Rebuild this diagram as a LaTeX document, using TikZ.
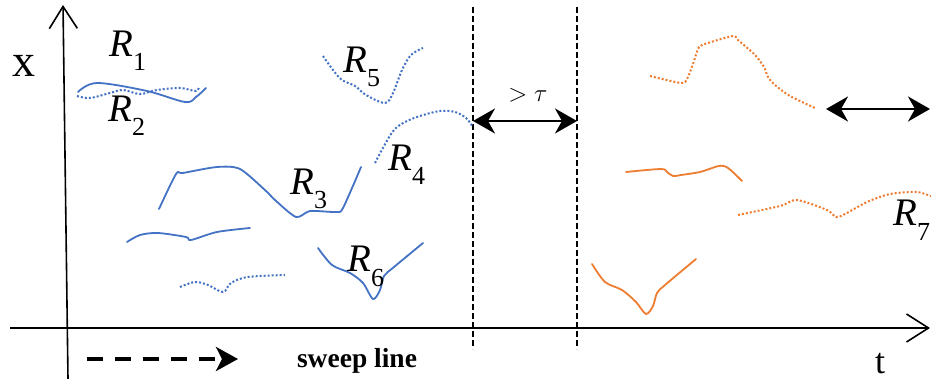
\documentclass[tikz,border=0pt]{standalone}
\usepackage{fontspec}
\setmainfont{Liberation Serif}
\usetikzlibrary{arrows.meta}
\definecolor{oblue}{HTML}{4472C4}
\definecolor{oorange}{HTML}{ED7D31}
\newcommand\trajlab[1]{{\fontsize{39}{40}\selectfont\textit{R}}\raisebox{-14pt}{\fontsize{26}{26}\selectfont #1}}
\begin{document}
\begin{tikzpicture}[x=1pt,y=-1pt,
  traj/.style={line width=1.8pt, line cap=round, line join=round},
  solidblue/.style={traj, draw=oblue},
  dotblue/.style={line width=2pt, draw=oblue, dash pattern=on 2pt off 2pt},
  solidorange/.style={traj, draw=oorange},
  dotorange/.style={line width=2pt, draw=oorange, dash pattern=on 2pt off 2pt},
  axis/.style={line width=1.6pt, black, -{Straight Barb[length=22pt,width=28pt,line width=1.6pt]}},
  sepline/.style={line width=1.4pt, black, dash pattern=on 6pt off 3pt},
  gaparrow/.style={line width=2.4pt, black, {Stealth[length=22pt,width=25pt,inset=7pt]}-{Stealth[length=22pt,width=25pt,inset=7pt]}},
  sweeparrow/.style={line width=3.6pt, black, dash pattern=on 16pt off 12pt, -{Stealth[length=22pt,width=24pt,inset=6pt]}},
  lab/.style={inner sep=0pt, anchor=base west},
  txt/.style={inner sep=0pt, anchor=base}
]
\clip (0,0) rectangle (931,379);
\fill[white] (0,0) rectangle (931,379);

% axes
\coordinate (xbot) at (68,379);
\coordinate (xtop) at (63,5);
\coordinate (tleft) at (10,328);
\coordinate (tright) at (930,328);
\draw[axis] (xbot) -- (xtop);
\draw[axis] (tleft) -- (tright);
\node[txt] (xlab) at (24,77) {\fontsize{46}{48}\selectfont x};
\node[txt] (tlab) at (880,373) {\fontsize{36}{38}\selectfont t};

% separating dashed lines
\coordinate (s1top) at (473,7);
\coordinate (s1bot) at (473,349);
\coordinate (s2top) at (577,7);
\coordinate (s2bot) at (577,349);
\draw[sepline] (s1top) -- (s1bot);
\draw[sepline] (s2top) -- (s2bot);

% gap arrows
\coordinate (g1l) at (473,121);
\coordinate (g1r) at (577,121);
\draw[gaparrow] (g1l) -- (g1r);
\node[txt] (taulab) at (528,102) {\fontsize{28}{30}\selectfont $>\tau$};
\coordinate (g2l) at (826,109);
\coordinate (g2r) at (930,109);
\draw[gaparrow] (g2l) -- (g2r);

% sweep line
\coordinate (swl) at (87,359);
\coordinate (swr) at (238,359);
\draw[sweeparrow] (swl) -- (swr);
\node[txt] (sweep) at (357,367) {\fontsize{27.5}{29}\selectfont\bfseries sweep line};

% blue trajectories
\draw[solidblue] plot[smooth, tension=0.55] coordinates {(78,92) (97,83) (147,91) (185,102) (196,97) (206,88)};
\draw[dotblue] plot[smooth, tension=0.55] coordinates {(77,96) (90,98) (110,93) (123,90) (140,94) (157,90) (180,88) (196,91) (199,86)};
\draw[solidblue] plot[smooth, tension=0.45] coordinates {(159,209) (176,174) (183,173) (217,167) (240,169) (266,191) (275,200) (296,217) (310,211) (336,212) (343,208) (361,167)};
\draw[solidblue] plot[smooth, tension=0.5] coordinates {(127,242) (140,235) (158,233) (186,237) (191,240) (217,232) (250,228)};
\draw[dotblue] plot[smooth, tension=0.55] coordinates {(180,287) (195,282) (208,285) (223,292) (231,283) (248,277) (285,275)};
\draw[solidblue] plot[smooth, tension=0.5] coordinates {(318,248) (332,265) (350,273) (363,283) (373,299) (380,290) (384,276) (394,267) (423,243)};
\draw[dotblue] plot[smooth, tension=0.55] coordinates {(323,56) (333,70) (342,80) (355,86) (366,95) (385,103) (393,93) (402,70) (411,55) (423,48)};
\draw[dotblue] plot[smooth, tension=0.55] coordinates {(375,163) (384,146) (394,130) (405,122) (420,116) (440,111) (455,112) (466,118) (473,127)};

% orange trajectories
\draw[dotorange] plot[smooth, tension=0.45] coordinates {(650,76) (681,83) (687,79) (693,64) (699,47) (708,43) (733,36) (738,40) (755,55) (764,67) (768,77) (775,85) (790,96) (815,108)};
\draw[solidorange] plot[smooth, tension=0.5] coordinates {(626,172) (661,169) (667,172) (673,176) (681,175) (700,172) (719,166) (728,168) (742,181)};
\draw[dotorange] plot[smooth, tension=0.45] coordinates {(738,215) (780,206) (797,200) (827,210) (836,217) (845,214) (867,202) (890,194) (917,192) (933,197)};
\draw[solidorange] plot[smooth, tension=0.5] coordinates {(592,264) (605,282) (622,290) (636,302) (646,314) (653,306) (657,293) (665,285) (696,259)};

% labels
\node[lab] (r1) at (109,57) {\trajlab{1}};
\node[lab] (r2) at (108,122) {\trajlab{2}};
\node[lab] (r3) at (290,195) {\trajlab{3}};
\node[lab] (r4) at (388,171) {\trajlab{4}};
\node[lab] (r5) at (343,73) {\trajlab{5}};
\node[lab] (r6) at (347,272) {\trajlab{6}};
\node[lab] (r7) at (893,226) {\trajlab{7}};
\end{tikzpicture}
\end{document}
